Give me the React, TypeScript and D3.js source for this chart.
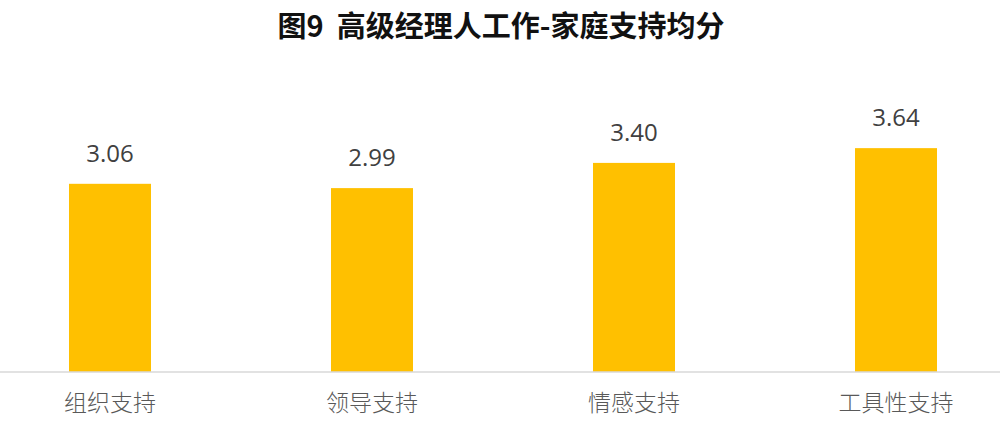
import React, { useEffect, useRef } from 'react';
import * as d3 from 'd3';

const categories = ['组织支持', '领导支持', '情感支持', '工具性支持'];
const values = [3.06, 2.99, 3.4, 3.64];
const title = '图9  高级经理人工作-家庭支持均分';

const width = 1000;
const height = 441;

const App: React.FC = () => {
  const svgRef = useRef<SVGSVGElement>(null);

  useEffect(() => {
    if (!svgRef.current) return;
    const svg = d3.select(svgRef.current);
    svg.selectAll('*').remove();

    const baseline = 372;

    const x = d3.scaleBand<string>()
      .domain(categories)
      .range([-21, 1027])
      .paddingInner(0.687)
      .paddingOuter(0.3435);

    const y = d3.scaleLinear()
      .domain([0, 4])
      .range([baseline, baseline - 246]);

    svg.append('rect')
      .attr('width', width)
      .attr('height', height)
      .attr('fill', '#ffffff');

    // заголовок
    svg.append('text')
      .attr('x', 501)
      .attr('y', 37)
      .attr('text-anchor', 'middle')
      .attr('font-family', '"Noto Sans CJK SC", sans-serif')
      .attr('font-weight', 700)
      .attr('font-size', 29)
      .attr('fill', '#111111')
      .attr('xml:space', 'preserve')
      .text(title);

    // столбцы
    svg.append('g')
      .selectAll('rect')
      .data(values)
      .join('rect')
      .attr('x', (_, i) => x(categories[i]) ?? 0)
      .attr('y', d => y(d))
      .attr('width', x.bandwidth())
      .attr('height', d => y(0) - y(d))
      .attr('fill', '#FFC000');

    // подписи значений
    svg.append('g')
      .selectAll('text')
      .data(values)
      .join('text')
      .attr('x', (_, i) => (x(categories[i]) ?? 0) + x.bandwidth() / 2)
      .attr('y', d => y(d) - 22)
      .attr('text-anchor', 'middle')
      .attr('font-family', '"Open Sans", "Noto Sans", sans-serif')
      .attr('font-size', 24)
      .attr('fill', '#404040')
      .text(d => d.toFixed(2));

    // ось X
    const xAxis = d3.axisBottom(x).tickSize(0).tickPadding(0);
    const gx = svg.append('g')
      .attr('transform', `translate(0,${baseline})`)
      .call(xAxis);
    gx.select('.domain').remove();
    gx.append('line')
      .attr('x1', 0)
      .attr('x2', width)
      .attr('y1', 0)
      .attr('y2', 0)
      .attr('stroke', '#d9d9d9')
      .attr('stroke-width', 1.5);
    gx.selectAll('.tick text')
      .attr('y', 39)
      .attr('dy', 0)
      .attr('font-family', '"Noto Sans CJK SC", sans-serif')
      .attr('font-weight', 300)
      .attr('font-size', 23)
      .attr('fill', '#595959');
  }, []);

  return (
    <svg
      ref={svgRef}
      width={width}
      height={height}
      style={{ position: 'absolute', left: 0, top: 0, display: 'block' }}
    />
  );
};

export default App;
